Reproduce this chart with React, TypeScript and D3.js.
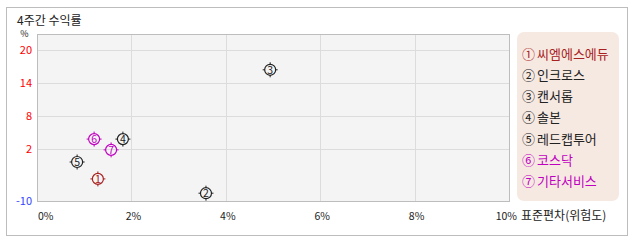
import React from "react";
import * as d3 from "d3";

const names = ["씨엠에스에듀", "인크로스", "캔서롭", "솔본", "레드캡투어", "코스닥", "기타서비스"];
const marks = ["①", "②", "③", "④", "⑤", "⑥", "⑦"];
const risk = [1.29, 3.58, 4.94, 1.82, 0.85, 1.21, 1.57];
const ret = [-4.9, -8.2, 16.4, 3.8, -1.0, 3.8, 1.8];
const colors = ["#a82020", "#222222", "#222222", "#222222", "#222222", "#c000c0", "#c000c0"];
const xTicks = [0, 2, 4, 6, 8, 10];
const yTicks = [20, 14, 8, 2];
const yMin = -10;

const FONT = "'Noto Sans CJK KR', 'DejaVu Sans', sans-serif";

export default function App() {
  const W = 638, H = 242;
  const left = 37, right = 509, top = 34, bottom = 201;
  const x = d3.scaleLinear().domain([0, 10]).range([left, right]);
  const y = d3.scaleLinear().domain([yMin, 2, 2 + (149 - top) / 5.5]).range([bottom, 149, top]);
  const last = xTicks.length - 1;

  return (
    <svg width={W} height={H} style={{ position: "absolute", left: 0, top: 0 }} fontFamily={FONT}>
      <rect x={0} y={0} width={W} height={H} fill="#fff" />
      <rect x={6.5} y={7.5} width={621} height={228} fill="#fff" stroke="#bdbdbd" />
      <text x={17} y={25} fontSize={12} fill="#222">4주간 수익률</text>
      <text x={24.5} y={37} fontSize={9} fill="#222" textAnchor="middle">%</text>
      <rect x={left} y={top} width={right - left} height={bottom - top} fill="#f4f4f4" />
      {xTicks.slice(1, -1).map((t) => (
        <line key={"gx" + t} x1={Math.round(x(t)) + 0.5} x2={Math.round(x(t)) + 0.5} y1={top} y2={bottom} stroke="#dcdcdc" />
      ))}
      {yTicks.map((t) => (
        <line key={"gy" + t} x1={left} x2={right} y1={Math.round(y(t)) + 0.5} y2={Math.round(y(t)) + 0.5} stroke="#dcdcdc" />
      ))}
      <rect x={left + 0.5} y={top + 0.5} width={right - left} height={bottom - top} fill="none" stroke="#bdbdbd" />
      {yTicks.map((t) => (
        <text key={"yl" + t} x={32} y={y(t) + 4} fontSize={11} fill="#ff0000" textAnchor="end">{t}</text>
      ))}
      <text x={32} y={bottom + 4} fontSize={11} fill="#3344ff" textAnchor="end">{yMin}</text>
      {xTicks.map((t, i) => (
        <text key={"xl" + t} x={i === 0 ? left + 1 : i === last ? 517 : x(t) + 2} y={220} fontSize={10.5} fill="#222"
          textAnchor={i === 0 ? "start" : i === last ? "end" : "middle"}>{t}%</text>
      ))}
      <text x={521} y={220} fontSize={12} fill="#222">표준편차(위험도)</text>
      {risk.map((r, i) => {
        const cx = x(r), cy = y(ret[i]);
        const c = colors[i];
        return (
          <g key={"p" + i}>
            <circle cx={cx} cy={cy} r={5.5} fill="none" stroke={c} strokeWidth={1.2} />
            <line x1={cx} x2={cx} y1={cy - 7.5} y2={cy - 5.5} stroke={c} />
            <line x1={cx} x2={cx} y1={cy + 5.5} y2={cy + 7.5} stroke={c} />
            <line x1={cx - 7.5} x2={cx - 5.5} y1={cy} y2={cy} stroke={c} />
            <line x1={cx + 5.5} x2={cx + 7.5} y1={cy} y2={cy} stroke={c} />
            <text x={cx} y={cy + 3.8} fontSize={10.5} fill={c} textAnchor="middle">{i + 1}</text>
          </g>
        );
      })}
      <rect x={517} y={32} width={102} height={169} rx={7} fill="#f6e9e2" />
      {names.map((n, i) => (
        <text key={"lg" + i} x={522} y={58.5 + i * 21.3} fontSize={13} fill={colors[i]}>
          {marks[i]}<tspan dx={2}>{n}</tspan>
        </text>
      ))}
    </svg>
  );
}
